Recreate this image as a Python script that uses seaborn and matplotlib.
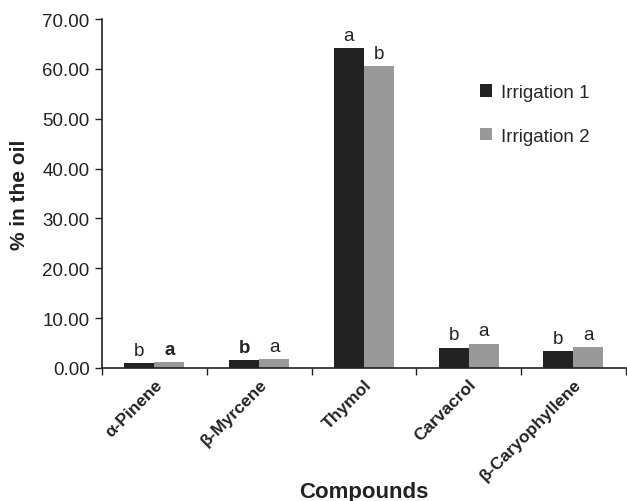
import pandas as pd
import seaborn as sns
import matplotlib.pyplot as plt
from matplotlib.ticker import FixedLocator, FormatStrFormatter

# Data
compounds = ['α-Pinene', 'β-Myrcene', 'Thymol', 'Carvacrol', 'β-Caryophyllene']
irrigation1 = [1.05, 1.5, 64.2, 4.1, 3.4]
irrigation2 = [1.2, 1.8, 60.6, 4.9, 4.2]
letters1 = ['b', 'b', 'a', 'b', 'b']
letters2 = ['a', 'a', 'b', 'a', 'a']
bold1 = [False, True, False, False, False]
bold2 = [True, False, False, False, False]
series = ['Irrigation 1', 'Irrigation 2']

df = pd.DataFrame({
    'compound': compounds * 2,
    'value': irrigation1 + irrigation2,
    'treatment': [series[0]] * len(compounds) + [series[1]] * len(compounds),
})

sns.set_style('ticks')
plt.rcParams['font.family'] = ['Liberation Sans', 'DejaVu Sans']

fig = plt.figure(figsize=(6.27, 5.02), dpi=100)
ax = fig.add_axes([0.1627, 0.265, 0.8353, 0.695])

sns.barplot(data=df, x='compound', y='value', hue='treatment',
            palette=['#222222', '#999999'], width=0.573, ax=ax,
            saturation=1, errorbar=None, linewidth=0)

# significance letters
for cont, labs, bolds in zip(ax.containers, [letters1, letters2], [bold1, bold2]):
    texts = ax.bar_label(cont, labels=labs, padding=3, fontsize=13.5, color='#222222')
    for t, b in zip(texts, bolds):
        if b:
            t.set_fontweight('bold')

ax.set_ylim(0, 70)
ax.set_xlim(-0.5, len(compounds) - 0.5)
ax.yaxis.set_major_locator(FixedLocator(range(0, 71, 10)))
ax.yaxis.set_major_formatter(FormatStrFormatter('%.2f'))
ax.tick_params(axis='y', labelsize=13.5, length=5, width=1, pad=4, colors='#222222')

# category labels at centres, tick marks at boundaries
ax.set_xticks(range(len(compounds)))
ax.set_xticklabels(compounds, rotation=45, ha='right', rotation_mode='anchor',
                   fontsize=12.5, fontweight='bold', color='#222222')
ax.tick_params(axis='x', which='major', length=0, pad=6)
ax.set_xticks([i - 0.5 for i in range(len(compounds) + 1)], minor=True)
ax.tick_params(axis='x', which='minor', length=5, width=1, color='#222222')

sns.despine(ax=ax)
for s in ['left', 'bottom']:
    ax.spines[s].set_color('#222222')
    ax.spines[s].set_linewidth(1.2)

ax.set_xlabel('Compounds', fontsize=16, fontweight='bold', color='#222222')
ax.set_ylabel('% in the oil', fontsize=15, fontweight='bold', color='#222222')
ax.xaxis.set_label_coords(0.5, -0.325)
ax.yaxis.set_label_coords(-0.139, 0.5)

ax.legend(frameon=False, loc='upper left', bbox_to_anchor=(0.765, 0.830),
          bbox_transform=fig.transFigure, fontsize=13.5, handlelength=0.65,
          handleheight=0.65, handletextpad=0.5, labelspacing=1.4,
          borderpad=0, borderaxespad=0, title=None)

fig.savefig('out.png', dpi=100)
